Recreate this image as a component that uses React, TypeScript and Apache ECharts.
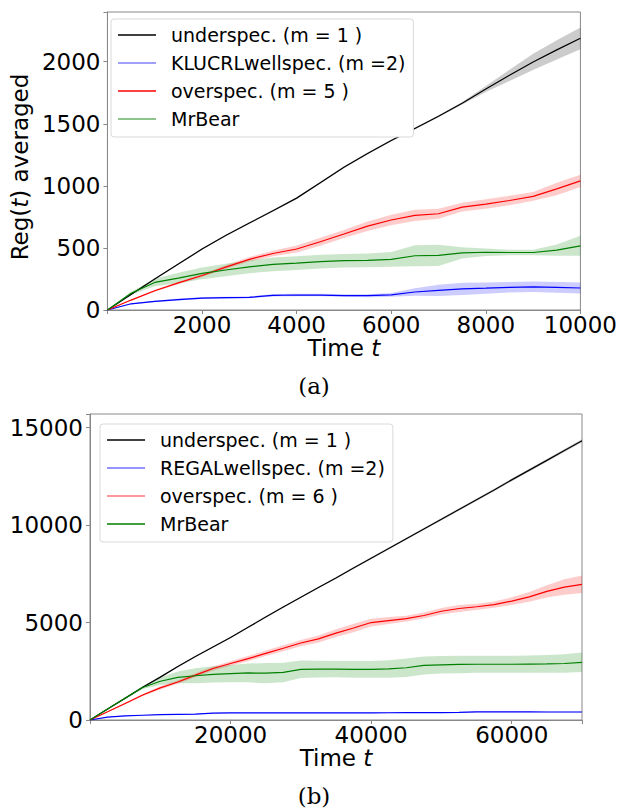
import React, { useEffect, useRef } from 'react';
import * as echarts from 'echarts';

// ---- Panel (a) ----
const tA = [0, 500, 1000, 1500, 2000, 2500, 3000, 3500, 4000, 4500, 5000, 5500, 6000, 6500, 7000, 7500, 8000, 8500, 9000, 9500, 10000];
const underA = [0, 125, 249, 370, 491, 600, 700, 800, 901, 1025, 1150, 1260, 1365, 1462, 1560, 1665, 1780, 1890, 1998, 2095, 2188];
const underABand = [0, 5, 6, 6, 7, 7, 7, 7, 7, 8, 8, 8, 8, 8, 8, 10, 25, 45, 65, 78, 88];
const wellA = [0, 50, 69, 84, 96, 99, 102, 118, 121, 120, 116, 115, 122, 145, 158, 170, 176, 183, 187, 182, 177];
const wellABand = [0, 4, 6, 8, 8, 8, 8, 10, 10, 10, 10, 12, 15, 30, 45, 50, 45, 42, 42, 44, 44];
const overA = [0, 80, 155, 218, 278, 345, 408, 455, 491, 550, 612, 675, 725, 762, 775, 828, 853, 882, 915, 975, 1040];
const overABand = [0, 5, 8, 10, 12, 15, 18, 22, 28, 32, 32, 38, 42, 45, 40, 35, 38, 38, 35, 50, 50];
const bearA = [0, 135, 222, 257, 295, 322, 348, 368, 378, 390, 397, 400, 408, 437, 440, 460, 465, 463, 463, 482, 517];
const bearABand = [0, 12, 30, 42, 48, 50, 52, 55, 55, 55, 55, 55, 60, 85, 85, 45, 30, 22, 22, 45, 80];

// ---- Panel (b) ----
const tB = [0, 2500, 5000, 7500, 10000, 12500, 15000, 17500, 20000, 22500, 25000, 27500, 30000, 32500, 35000, 37500, 40000, 42500, 45000, 47500, 50000, 52500, 55000, 57500, 60000, 62500, 65000, 67500, 70000];
const underB = [0, 560, 1120, 1680, 2200, 2740, 3260, 3750, 4231, 4760, 5280, 5800, 6300, 6800, 7290, 7800, 8300, 8800, 9300, 9800, 10300, 10800, 11300, 11800, 12320, 12820, 13320, 13830, 14330];
const underBBand = [0, 20, 30, 40, 40, 40, 40, 40, 40, 40, 40, 40, 40, 40, 45, 45, 50, 50, 55, 55, 60, 60, 65, 65, 70, 70, 75, 75, 80];
const wellB = [0, 150, 210, 245, 275, 290, 300, 350, 365, 365, 365, 365, 365, 365, 365, 368, 370, 372, 375, 378, 380, 390, 420, 420, 415, 412, 410, 410, 410];
const wellBBand = [0, 10, 15, 15, 20, 20, 20, 20, 20, 20, 20, 20, 20, 20, 20, 20, 20, 20, 20, 20, 20, 20, 20, 20, 20, 20, 20, 20, 20];
const overB = [0, 420, 850, 1280, 1650, 1950, 2300, 2640, 2900, 3150, 3420, 3680, 3950, 4160, 4460, 4720, 5000, 5100, 5200, 5360, 5580, 5720, 5810, 5920, 6100, 6320, 6600, 6820, 6960];
const overBBand = [0, 20, 40, 60, 80, 90, 100, 110, 120, 130, 140, 150, 160, 180, 200, 220, 200, 180, 150, 150, 170, 180, 160, 160, 200, 250, 320, 400, 450];
const bearB = [0, 560, 1120, 1670, 1990, 2190, 2270, 2340, 2380, 2415, 2400, 2440, 2600, 2610, 2610, 2600, 2600, 2620, 2680, 2800, 2830, 2850, 2860, 2860, 2860, 2870, 2880, 2900, 2960];
const bearBBand = [0, 30, 60, 80, 200, 300, 380, 420, 440, 480, 520, 500, 450, 430, 420, 430, 430, 450, 480, 460, 450, 450, 440, 440, 440, 440, 450, 470, 500];

const namesA = ['underspec. (m = 1 )', 'KLUCRLwellspec. (m =2)', 'overspec. (m = 5 )', 'MrBear'];
const namesB = ['underspec. (m = 1 )', 'REGALwellspec. (m =2)', 'overspec. (m = 6 )', 'MrBear'];

const FONT = 'DejaVu Sans';

function bandSeries(idx: number, t: number[], mean: number[], half: number[], color: string) {
  const rows = t.map((x, i) => [x, mean[i] - half[i], mean[i] + half[i]]);
  return {
    type: 'custom',
    xAxisIndex: idx,
    yAxisIndex: idx,
    silent: true,
    clip: true,
    data: rows,
    encode: { x: 0, y: [1, 2] },
    z: 1,
    renderItem: (params: any, api: any) => {
      if (params.dataIndex !== 0) return null;
      const upper = rows.map((r) => api.coord([r[0], r[2]]));
      const lower = rows.map((r) => api.coord([r[0], r[1]])).reverse();
      return {
        type: 'polygon',
        shape: { points: upper.concat(lower) },
        style: { fill: color, opacity: 0.2 },
        silent: true,
      };
    },
  };
}

function lineSeries(idx: number, name: string, t: number[], mean: number[], color: string) {
  return {
    type: 'line',
    name,
    xAxisIndex: idx,
    yAxisIndex: idx,
    data: t.map((x, i) => [x, mean[i]]),
    symbol: 'none',
    showSymbol: false,
    lineStyle: { color, width: 1.2 },
    itemStyle: { color },
    z: 3,
  };
}

const labelStyle = { fontFamily: FONT, fontSize: 23, color: '#000' };
const nameStyle = {
  fontFamily: FONT,
  fontSize: 23,
  color: '#000',
  rich: { it: { fontFamily: FONT, fontSize: 23, fontStyle: 'italic', color: '#000' } },
};

function xAxisCfg(idx: number, max: number, interval: number) {
  return {
    type: 'value',
    gridIndex: idx,
    min: 0,
    max,
    interval,
    name: 'Time {it|t}',
    nameLocation: 'middle',
    nameGap: 26,
    nameTextStyle: nameStyle,
    axisLabel: {
      ...labelStyle,
      margin: 3,
      formatter: (v: number) => (v === 0 || v % interval !== 0 ? '' : String(v)),
    },
    axisTick: { length: 4, lineStyle: { color: '#888' } },
    axisLine: { lineStyle: { color: '#888' } },
    splitLine: { show: false },
  };
}

function yAxisCfg(idx: number, max: number, interval: number, name?: string) {
  return {
    type: 'value',
    gridIndex: idx,
    min: 0,
    max,
    interval,
    name: name || '',
    nameLocation: 'middle',
    nameGap: 70,
    nameTextStyle: { ...nameStyle, padding: [0, 12, 0, 0] },
    axisLabel: {
      ...labelStyle,
      margin: 7,
      formatter: (v: number) => (v % interval !== 0 ? '' : String(v)),
    },
    axisTick: { length: 4, lineStyle: { color: '#888' } },
    axisLine: { lineStyle: { color: '#888' } },
    splitLine: { show: false },
  };
}

function legendCfg(left: number, top: number, names: string[], colors: string[]) {
  return {
    orient: 'vertical',
    left,
    top,
    padding: [6, 8, 8, 7],
    itemGap: 8,
    itemWidth: 38,
    itemHeight: 1.5,
    icon: 'rect',
    selectedMode: false,
    backgroundColor: '#fff',
    borderColor: '#d9d9d9',
    borderWidth: 1,
    borderRadius: 3,
    textStyle: { fontFamily: FONT, fontSize: 19, color: '#000', lineHeight: 20, padding: [0, 0, 0, 10] },
    data: names.map((n, i) => ({ name: n, itemStyle: { color: colors[i], borderWidth: 0 } })),
  };
}

export default function App() {
  const ref = useRef<HTMLDivElement>(null);
  useEffect(() => {
    if (!ref.current) return;
    const chart = echarts.init(ref.current, null, { renderer: 'svg' });
    const option: any = {
      animation: false,
      backgroundColor: '#fff',
      grid: [
        { left: 102, top: 12, width: 480, height: 298, show: true, borderColor: '#888', borderWidth: 1 },
        { left: 90, top: 414, width: 492, height: 306, show: true, borderColor: '#888', borderWidth: 1 },
      ],
      xAxis: [xAxisCfg(0, 10000, 2000), xAxisCfg(1, 70000, 20000)],
      yAxis: [yAxisCfg(0, 2400, 500, 'Reg({it|t}) averaged'), yAxisCfg(1, 15700, 5000)],
      legend: [
        legendCfg(111, 19, namesA, ['#000000', '#8080ff', '#ff0000', '#66b266']),
        legendCfg(100, 424, namesB, ['#000000', '#7070ff', '#ff7777', '#008000']),
      ],
      series: [
        bandSeries(0, tA, underA, underABand, '#000000'),
        bandSeries(0, tA, wellA, wellABand, '#0000ff'),
        bandSeries(0, tA, overA, overABand, '#ff0000'),
        bandSeries(0, tA, bearA, bearABand, '#008000'),
        lineSeries(0, namesA[0], tA, underA, '#000000'),
        lineSeries(0, namesA[1], tA, wellA, '#0000ff'),
        lineSeries(0, namesA[2], tA, overA, '#ff0000'),
        lineSeries(0, namesA[3], tA, bearA, '#008000'),
        bandSeries(1, tB, underB, underBBand, '#000000'),
        bandSeries(1, tB, wellB, wellBBand, '#0000ff'),
        bandSeries(1, tB, overB, overBBand, '#ff0000'),
        bandSeries(1, tB, bearB, bearBBand, '#008000'),
        lineSeries(1, namesB[0], tB, underB, '#000000'),
        lineSeries(1, namesB[1], tB, wellB, '#0000ff'),
        lineSeries(1, namesB[2], tB, overB, '#ff0000'),
        lineSeries(1, namesB[3], tB, bearB, '#008000'),
      ],
      graphic: [
        {
          type: 'text',
          x: 314,
          y: 386,
          style: { text: '(a)', fontFamily: 'DejaVu Serif', fontSize: 23, fill: '#000', align: 'center', verticalAlign: 'middle' },
        },
        {
          type: 'text',
          x: 314,
          y: 796,
          style: { text: '(b)', fontFamily: 'DejaVu Serif', fontSize: 23, fill: '#000', align: 'center', verticalAlign: 'middle' },
        },
      ],
    };
    chart.setOption(option);
    return () => chart.dispose();
  }, []);
  return <div ref={ref} style={{ position: 'absolute', left: 0, top: 0, width: 620, height: 810 }} />;
}
